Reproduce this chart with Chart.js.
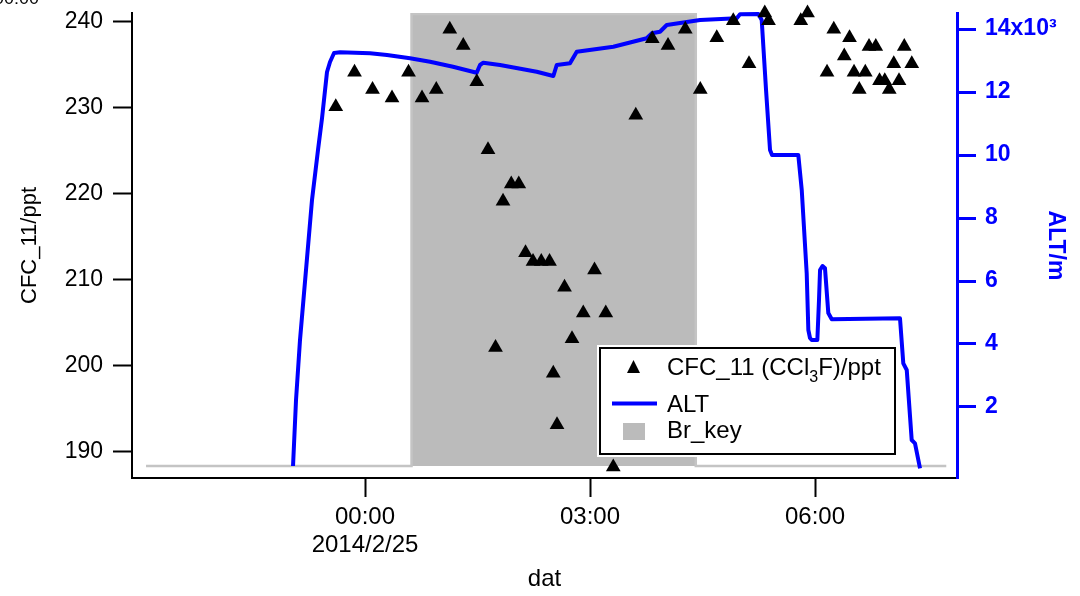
<!DOCTYPE html>
<html>
<head>
<meta charset="utf-8">
<script src="https://cdn.jsdelivr.net/npm/chart.js@4/dist/chart.umd.min.js"></script>
<style>
  body { margin: 0; background: #fff; }
</style>
</head>
<body>
<canvas id="chart" width="1080" height="596"></canvas>
<script>
// time is in hours after 2014/2/25 00:00
const cfcHours = [-0.39, -0.14, 0.10, 0.36, 0.58, 0.76, 0.95, 1.13, 1.31, 1.49, 1.64, 1.74, 1.84, 1.95, 2.05,
  2.14, 2.24, 2.35, 2.46, 2.51, 2.56, 2.66, 2.76, 2.91, 3.06, 3.21, 3.31, 3.61, 3.83, 4.04, 4.27, 4.47, 4.69,
  4.91, 5.12, 5.33, 5.38, 5.81, 5.90, 6.16, 6.25, 6.39, 6.46, 6.52, 6.59, 6.67, 6.72, 6.81, 6.86, 6.93, 6.99,
  7.05, 7.12, 7.19, 7.29];
const cfcValues = [230.1, 234.1, 232.1, 231.1, 234.1, 231.1, 232.1, 239.1, 237.2, 233.0, 225.1, 202.1, 219.1, 221.1, 221.1,
  213.1, 212.1, 212.1, 212.1, 199.1, 193.1, 209.1, 203.1, 206.1, 211.1, 206.1, 188.2, 229.1, 238.0, 237.2, 239.1, 232.1, 238.1,
  240.1, 235.1, 241.0, 240.1, 240.1, 241.0, 234.1, 239.1, 236.0, 238.1, 234.1, 232.1, 234.1, 237.1, 237.1, 233.1, 233.1, 232.1,
  235.1, 233.1, 237.1, 235.1];

const altHours = [-0.96, -0.92, -0.867, -0.787, -0.707, -0.627, -0.573, -0.507, -0.467, -0.413, -0.333, 0.067, 0.293,
  0.6, 0.867, 1.173, 1.489, 1.533, 1.577, 1.8, 2.289, 2.511, 2.556, 2.733, 2.823, 3.311, 3.756, 3.823, 3.933, 4.023,
  4.467, 4.956, 5.0, 5.244, 5.289, 5.347, 5.4, 5.427, 5.777, 5.823, 5.889, 5.911, 5.933, 5.956, 6.031, 6.053, 6.067,
  6.1, 6.133, 6.177, 6.223, 7.133, 7.177, 7.223, 7.289, 7.333, 7.4];
const altValues = [127, 2222, 4127, 6349, 8571, 10159, 11175, 12635, 12952, 13238, 13260, 13228, 13175,
  13070, 12962, 12803, 12613, 12857, 12930, 12857, 12644, 12508, 12857, 12911, 13279, 13438, 13705, 13863, 13914, 14127,
  14286, 14339, 14470, 14480, 14286, 12063, 10159, 10000, 10000, 8889, 6244, 4444, 4190, 4127, 4127, 5397, 6349,
  6476, 6403, 4984, 4784, 4816, 3387, 3175, 952, 847, 54];

const brHours = [-2.92, 0.62, 0.62, 4.41, 4.41, 7.75];
const brValues = [0, 0, 1, 1, 0, 0];

const hourTicks = [0, 3, 6];
const hourLabels = [['00:00', '2014/2/25'], '03:00', '06:00'];
const cfcTicks = [190, 200, 210, 220, 230, 240];
const altTicks = [2000, 4000, 6000, 8000, 10000, 12000, 14000];

const zip = (xs, ys) => xs.map((x, i) => ({ x: x, y: ys[i] }));

Chart.defaults.font.family = '"Liberation Sans", Arial, Helvetica, sans-serif';
Chart.defaults.color = '#000';

const legendBox = {
  id: 'legendBox',
  afterDraw(chart) {
    const c = chart.ctx;
    c.save();
    c.fillStyle = '#fff';
    c.fillRect(597, 345, 301, 112);
    c.strokeStyle = '#000';
    c.lineWidth = 2;
    c.strokeRect(600, 348, 295, 106);

    // triangle marker
    c.fillStyle = '#000';
    c.beginPath();
    c.moveTo(633.5, 360);
    c.lineTo(640, 373);
    c.lineTo(627, 373);
    c.closePath();
    c.fill();

    c.font = '24px "Liberation Sans", Arial, sans-serif';
    c.textBaseline = 'alphabetic';
    c.textAlign = 'left';
    let x = 667;
    const part1 = 'CFC_11 (CCl';
    c.fillText(part1, x, 375);
    x += c.measureText(part1).width;
    c.font = '16px "Liberation Sans", Arial, sans-serif';
    c.fillText('3', x, 382);
    x += c.measureText('3').width;
    c.font = '24px "Liberation Sans", Arial, sans-serif';
    c.fillText('F)/ppt', x, 375);

    c.strokeStyle = '#0000ff';
    c.lineWidth = 4;
    c.beginPath();
    c.moveTo(612, 403.5);
    c.lineTo(657, 403.5);
    c.stroke();
    c.fillText('ALT', 667, 412);

    c.fillStyle = '#bbbbbb';
    c.fillRect(623, 423, 22, 17);
    c.fillStyle = '#000';
    c.fillText('Br_key', 667, 438);

    // clipped label fragment at top-left
    c.font = '18px "Liberation Sans", Arial, sans-serif';
    c.fillText('00:00', -6, 4);
    c.restore();
  }
};

new Chart(document.getElementById('chart').getContext('2d'), {
  type: 'line',
  data: {
    datasets: [
      {
        label: 'CFC_11 (CCl3F)/ppt',
        data: zip(cfcHours, cfcValues),
        yAxisID: 'y',
        showLine: false,
        pointStyle: 'triangle',
        pointRadius: 8.5,
        pointBackgroundColor: '#000',
        pointBorderColor: '#000',
        pointBorderWidth: 0,
        clip: false,
        order: 1
      },
      {
        label: 'ALT',
        data: zip(altHours, altValues),
        yAxisID: 'yAlt',
        borderColor: '#0000ff',
        borderWidth: 4,
        borderJoinStyle: 'round',
        pointRadius: 0,
        tension: 0,
        clip: false,
        order: 2
      },
      {
        label: 'Br_key',
        data: zip(brHours, brValues),
        yAxisID: 'yBr',
        borderColor: '#c4c4c4',
        borderWidth: 2.5,
        backgroundColor: '#bbbbbb',
        fill: { value: 0 },
        pointRadius: 0,
        tension: 0,
        order: 3
      }
    ]
  },
  options: {
    responsive: false,
    animation: false,
    devicePixelRatio: 1,
    layout: { padding: { top: 13, left: 0, right: 0, bottom: 0 } },
    plugins: { legend: { display: false }, tooltip: { enabled: false } },
    scales: {
      x: {
        type: 'linear',
        position: 'bottom',
        min: -3.107,
        max: 7.893,
        afterBuildTicks: (s) => { s.ticks = hourTicks.map(v => ({ value: v })); },
        afterFit: (s) => { s.height = 118; s.paddingLeft = 0; s.paddingRight = 0; },
        ticks: {
          callback: (v) => hourLabels[hourTicks.indexOf(v)],
          font: { size: 24, lineHeight: 1.15 },
          color: '#000',
          padding: 7,
          maxRotation: 0,
          autoSkip: false
        },
        grid: { drawOnChartArea: false, drawTicks: true, tickLength: 19, tickWidth: 2, tickColor: '#000', color: '#000' },
        border: { display: true, color: '#000', width: 2 },
        title: { display: true, text: 'dat', font: { size: 24 }, color: '#000', padding: { top: 0, bottom: 2 } }
      },
      y: {
        type: 'linear',
        position: 'left',
        min: 186.92,
        max: 240.99,
        afterBuildTicks: (s) => { s.ticks = cfcTicks.map(v => ({ value: v })); },
        afterFit: (s) => { s.width = 132; s.paddingTop = 0; s.paddingBottom = 0; },
        ticks: { font: { size: 23 }, color: '#000', padding: 10 },
        grid: { drawOnChartArea: false, drawTicks: true, tickLength: 19, tickWidth: 2, tickColor: '#000', color: '#000' },
        border: { display: true, color: '#000', width: 2 },
        title: { display: true, text: 'CFC_11/ppt', font: { size: 22 }, color: '#000', padding: { top: 17, bottom: 0 } }
      },
      yAlt: {
        type: 'linear',
        position: 'right',
        min: -254,
        max: 14508,
        afterBuildTicks: (s) => { s.ticks = altTicks.map(v => ({ value: v })); },
        afterFit: (s) => { s.width = 123; s.paddingTop = 0; s.paddingBottom = 0; },
        ticks: {
          callback: (v) => (v === 14000 ? '14x10\u00b3' : String(v / 1000)),
          font: { size: 23, weight: 'bold' },
          color: '#0000ff',
          padding: 9
        },
        grid: { drawOnChartArea: false, drawTicks: true, tickLength: 19, tickWidth: 3, tickColor: '#0000ff', color: '#0000ff' },
        border: { display: true, color: '#0000ff', width: 3 },
        title: { display: true, text: 'ALT/m', font: { size: 23, weight: 'bold' }, color: '#0000ff', padding: { top: 11, bottom: 0 } }
      },
      yBr: {
        type: 'linear',
        display: false,
        min: -0.0265,
        max: 1.0022
      }
    }
  },
  plugins: [legendBox]
});
</script>
</body>
</html>
